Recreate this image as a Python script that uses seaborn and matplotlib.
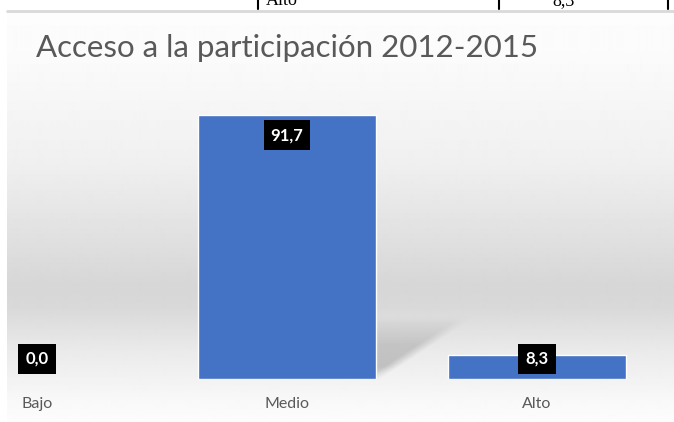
import numpy as np
import pandas as pd
import matplotlib
matplotlib.use("Agg")
import matplotlib.pyplot as plt
import seaborn as sns

categories = ["Bajo", "Medio", "Alto"]
values = [0.0, 91.7, 8.3]
title = "Acceso a la participación 2012-2015"
table_labels = ["Alto", "8,3"]

sns.set_theme(style="white")
plt.rcParams["font.family"] = ["Lato", "DejaVu Sans"]

W, H = 674, 422
fig = plt.figure(figsize=(W / 100, H / 100), dpi=100)
fig.patch.set_facecolor("white")

# background gradient of the chart area
bg = fig.add_axes([7 / W, 0, 1 - 7 / W, (H - 12) / H])
stops_y = np.array([0, 40, 150, 275, 295, 340, 390, 410])          # px from top of area
stops_v = np.array([0.99, 0.985, 0.94, 0.84, 0.85, 0.92, 0.975, 0.99])
yy = np.arange(H - 12)
g = np.interp(yy, stops_y, stops_v)
img = np.repeat(g[:, None], 10, axis=1)
bg.imshow(img, cmap="gray", vmin=0, vmax=1, aspect="auto", interpolation="bilinear")
bg.axis("off")

# top table fragment
fig.add_artist(plt.Line2D([7 / W, 1], [1 - 11 / H, 1 - 11 / H], color="#d9d9d9", lw=2))
for xp in [258, 499, 668]:
    fig.add_artist(plt.Line2D([xp / W, xp / W], [1, 1 - 9 / H], color="black", lw=1.5))
fig.text(266 / W, 1 - 5 / H, table_labels[0], family="Liberation Serif", fontsize=13,
         color="black", va="baseline", ha="left")
fig.text(564 / W, 1 - 5 / H, table_labels[1], family="Liberation Serif", fontsize=13,
         color="black", va="baseline", ha="center")

# main axes
base_px = 379
px_per_unit = 2.88
ax = fig.add_axes([0, (H - base_px) / H, 1, base_px / H])
ax.patch.set_alpha(0)
df = pd.DataFrame({"cat": categories, "val": values})
sns.barplot(data=df, x="cat", y="val", color="#4472C4", saturation=1, width=0.71, ax=ax, zorder=3)
xlim = (-37 / 250, (W - 37) / 250)
ylim = (0, base_px / px_per_unit)

# soft perspective shadow of the tallest bar
big = max(ax.patches, key=lambda p: p.get_height())
x0 = big.get_x(); x1 = x0 + big.get_width()
dx, sh = 0.37, 21
gx = np.linspace(x1 - 0.02, x1 + dx + 0.06, 200)
gy = np.linspace(0, sh + 2, 150)
GX, GY = np.meshgrid(gx, gy)
t = np.clip(GY / sh, 0, 1)
prof = np.interp(t, [0, 0.2, 0.55, 1], [0.14, 0.34, 0.28, 0.03])
d_right = (x1 + dx * t) - GX
edge = np.clip(d_right / 0.06 + 0.3, 0, 1)
top = np.clip((sh - GY) / 3 + 0.5, 0, 1)
rgba = np.zeros(GX.shape + (4,))
rgba[..., :3] = 0.4
rgba[..., 3] = prof * edge * top
ax.imshow(rgba, extent=(gx[0], gx[-1], gy[0], gy[-1]), origin="lower", aspect="auto",
          interpolation="bilinear", zorder=2)

# data labels
for p, v in zip(ax.patches[:len(values)], values):
    cx = p.get_x() + p.get_width() / 2
    cy = max(v - 7, 7)
    ax.text(cx, cy, f"{v:.1f}".replace(".", ","), ha="center", va="center",
            color="white", fontsize=12, fontweight="bold", zorder=5,
            bbox=dict(facecolor="black", edgecolor="none", boxstyle="square,pad=0.42"))

ax.set_xlim(*xlim)
ax.set_ylim(*ylim)
ax.set_xlabel("")
ax.set_ylabel("")
ax.set_yticks([])
ax.tick_params(axis="x", length=0, pad=13, labelsize=11.5, labelcolor="#595959")
for s in ax.spines.values():
    s.set_visible(False)

fig.text(36 / W, 1 - 57 / H, title, fontsize=22.5, color="#595959", ha="left", va="baseline")

fig.savefig("out.png", dpi=100, facecolor="white")
